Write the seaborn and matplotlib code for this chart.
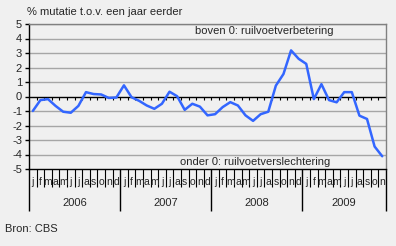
import numpy as np
import pandas as pd
import matplotlib
matplotlib.use("Agg")
import matplotlib.pyplot as plt
import matplotlib.transforms as mtransforms
import seaborn as sns

# ---- data ----
years = ["2006", "2007", "2008", "2009"]
month_letters = ["j", "f", "m", "a", "m", "j", "j", "a", "s", "o", "n", "d"]
months_per_year = [12, 12, 12, 11]
values = [
    -1.0, -0.25, -0.18, -0.65, -1.05, -1.12, -0.65, 0.3, 0.17, 0.14, -0.1, -0.07,   # 2006
    0.77, -0.05, -0.3, -0.62, -0.85, -0.5, 0.33, 0.02, -0.92, -0.5, -0.7, -1.3,    # 2007
    -1.22, -0.73, -0.39, -0.62, -1.3, -1.68, -1.22, -1.05, 0.75, 1.55, 3.18, 2.6,  # 2008
    2.25, -0.18, 0.85, -0.25, -0.4, 0.3, 0.3, -1.32, -1.55, -3.45, -4.12,         # 2009
]
y_ticks = [-5, -4, -3, -2, -1, 0, 1, 2, 3, 4, 5]
title_text = "% mutatie t.o.v. een jaar eerder"
upper_note = "boven 0: ruilvoetverbetering"
lower_note = "onder 0: ruilvoetverslechtering"
source_text = "Bron: CBS"

df = pd.DataFrame({"idx": np.arange(len(values)), "value": values})

# ---- style ----
sns.set_style("white")
plt.rcParams["font.family"] = ["Liberation Sans", "DejaVu Sans"]
BG = "#f0f0f0"
FS = 7.5

W, H = 396, 246
fig = plt.figure(figsize=(W / 100, H / 100), dpi=100, facecolor=BG)
left, right, top, bottom = 29, 386, 24, 169
ax = fig.add_axes([left / W, 1 - bottom / H, (right - left) / W, (bottom - top) / H])
ax.set_facecolor(BG)

# grid lines
for yv in y_ticks[1:]:
    if yv != 0:
        ax.axhline(yv, color="#a6a6a6", lw=1.0, zorder=1)

n = len(values)
ax.set_xlim(-0.5, n - 0.5)
ax.set_ylim(-5, 5)

# zero line with small ticks
ax.axhline(0, color="black", lw=1.0, zorder=2)
bounds = np.arange(n + 1) - 0.5
ax.vlines(bounds[1:-1], -0.25, 0, color="black", lw=0.8, zorder=2)

sns.lineplot(data=df, x="idx", y="value", ax=ax, color="#3366ff", lw=1.8, zorder=3)

# spines
for s in ["top", "right"]:
    ax.spines[s].set_color("#808080")
    ax.spines[s].set_linewidth(1.0)
for s in ["left", "bottom"]:
    ax.spines[s].set_color("black")
    ax.spines[s].set_linewidth(1.0)

ax.set_xlabel("")
ax.set_ylabel("")
ax.set_yticks(y_ticks)
ax.set_yticklabels([str(v) for v in y_ticks], fontsize=FS + 0.5)
ax.tick_params(axis="y", left=True, direction="out", length=3, width=1, color="black", pad=2)

# x: year boundaries as major ticks (long), month boundaries as minor ticks
year_bounds = np.concatenate([[0], np.cumsum(months_per_year)]) - 0.5
ax.set_xticks(year_bounds)
ax.set_xticklabels([])
ax.set_xticks(bounds, minor=True)
ax.tick_params(axis="x", which="major", bottom=True, direction="out", length=30, width=1, color="black")
ax.tick_params(axis="x", which="minor", bottom=True, direction="out", length=13, width=0.8, color="black")

# month labels
trans = mtransforms.blended_transform_factory(ax.transData, fig.transFigure)
k = 0
for yi, cnt in enumerate(months_per_year):
    for m in range(cnt):
        ax.text(k, 1 - 182 / H, month_letters[m], transform=trans, ha="center",
                va="center", fontsize=FS)
        k += 1
    center = year_bounds[yi] + cnt / 2
    ax.text(center, 1 - 203 / H, years[yi], transform=trans, ha="center",
            va="center", fontsize=FS + 0.5)

# notes
ax.text(0.853, 0.952, upper_note, transform=ax.transAxes, ha="right", va="center", fontsize=FS + 0.5)
ax.text(0.843, 0.046, lower_note, transform=ax.transAxes, ha="right", va="center", fontsize=FS + 0.5)

fig.text(27 / W, 1 - 12 / H, title_text, ha="left", va="center", fontsize=FS + 0.5)
fig.text(5 / W, 1 - 229 / H, source_text, ha="left", va="center", fontsize=FS + 0.5)

fig.savefig("out.png", dpi=100, facecolor=BG)
